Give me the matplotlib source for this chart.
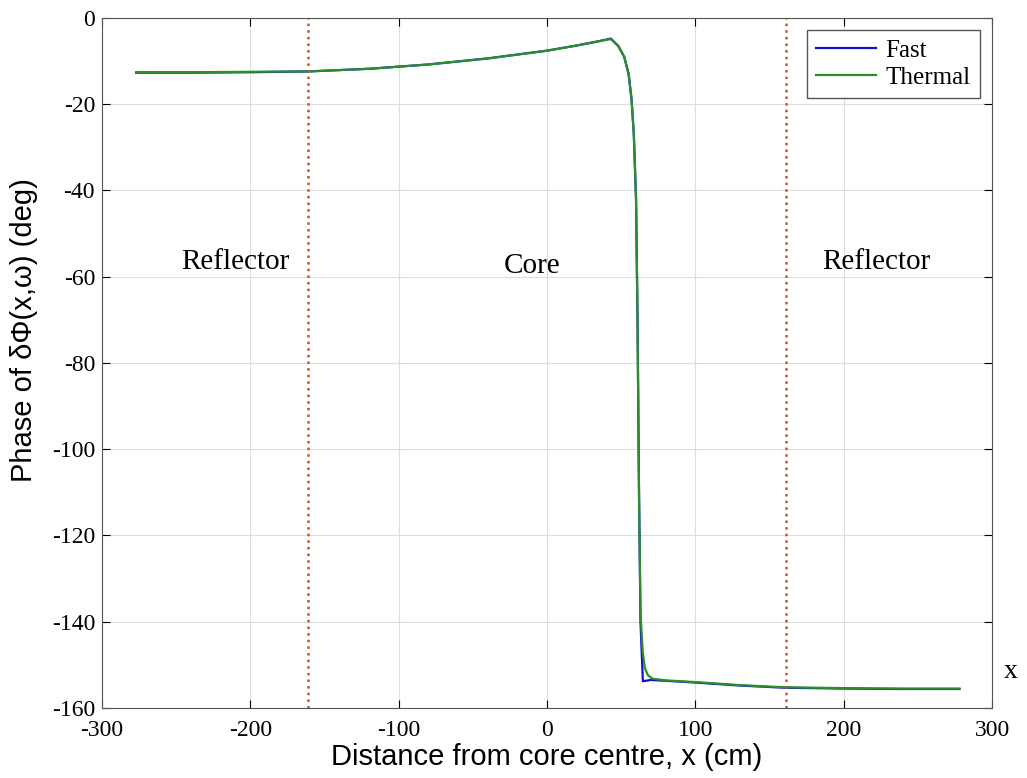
import numpy as np
import matplotlib.pyplot as plt

plt.rcParams['axes.unicode_minus'] = False

# phase curves
x_fast = [-277, -240, -200, -160, -120, -80, -40, 0, 20, 35, 43, 48, 52, 55, 57, 58.5, 60, 61, 62, 63, 64.6,
          70, 80, 100, 130, 160, 200, 240, 278]
y_fast = [-12.7, -12.7, -12.6, -12.4, -11.8, -10.8, -9.4, -7.6, -6.4, -5.4, -4.8, -6.5, -9.0, -13.0, -19.0, -27.0,
          -42.0, -70.0, -110.0, -140.0, -153.8, -153.5, -153.7, -154.1, -154.8, -155.3, -155.5, -155.6, -155.6]
x_thermal = [-277, -240, -200, -160, -120, -80, -40, 0, 20, 35, 43, 48, 52, 55, 57, 58.5, 60, 61, 62, 63,
             64.5, 66, 68, 71, 80, 100, 130, 160, 200, 240, 278]
y_thermal = [-12.6, -12.6, -12.5, -12.4, -11.8, -10.8, -9.4, -7.6, -6.4, -5.4, -4.9, -6.5, -9.0, -13.0, -19.0, -27.0,
             -42.0, -70.0, -110.0, -138.0, -147.0, -150.8, -152.4, -153.2, -153.6, -154.0, -154.7, -155.2, -155.4,
             -155.5, -155.5]
boundaries = [-161, 161]
regions = [(-210, -56.5, 'Reflector'), (-10, -57.5, 'Core'), (222, -56.5, 'Reflector')]

fig = plt.figure(figsize=(10.27, 7.78), dpi=100)
ax = fig.add_axes([0.0993, 0.09, 0.8667, 0.887])

ax.plot(x_fast, y_fast, color='#1010d0', lw=1.6, label='Fast')
ax.plot(x_thermal, y_thermal, color='#2a8f2a', lw=1.6, label='Thermal')
for b in boundaries:
    ax.axvline(b, color='#c8502a', ls=':', lw=1.8)
for rx, ry, txt in regions:
    ax.text(rx, ry, txt, ha='center', va='center', fontsize=21, family='Liberation Serif')

ax.set_xlim(-300, 300)
ax.set_ylim(-160, 0)
ax.set_xticks(np.arange(-300, 301, 100))
ax.set_yticks(np.arange(-160, 1, 20))
ax.grid(True, color='#dddddd', lw=0.8)
ax.tick_params(direction='in', top=True, right=True, length=6, labelsize=17)
ax.tick_params(axis='x', pad=9)
ax.tick_params(axis='y', pad=5)
for lab in ax.get_xticklabels() + ax.get_yticklabels():
    lab.set_family('Liberation Serif')
for s in ax.spines.values():
    s.set_color('#555555')

ax.set_xlabel('Distance from core centre, x (cm)', fontsize=21, family='Liberation Sans', labelpad=1)
ax.set_ylabel('Phase of δΦ(x,ω) (deg)', fontsize=21, family='Liberation Sans')
ax.yaxis.set_label_coords(-0.072, 0.548)
ax.text(1.013, 0.035, 'x', transform=ax.transAxes, fontsize=20, family='Liberation Serif', va='bottom')

leg = ax.legend(loc='upper right', prop={'family': 'Liberation Serif', 'size': 18}, fancybox=False,
                framealpha=1, edgecolor='#555555', handlelength=2.4, handletextpad=0.4,
                labelspacing=0.2, borderaxespad=0.5, borderpad=0.35)
leg.get_frame().set_linewidth(1.0)

fig.savefig('out.png', dpi=100)
